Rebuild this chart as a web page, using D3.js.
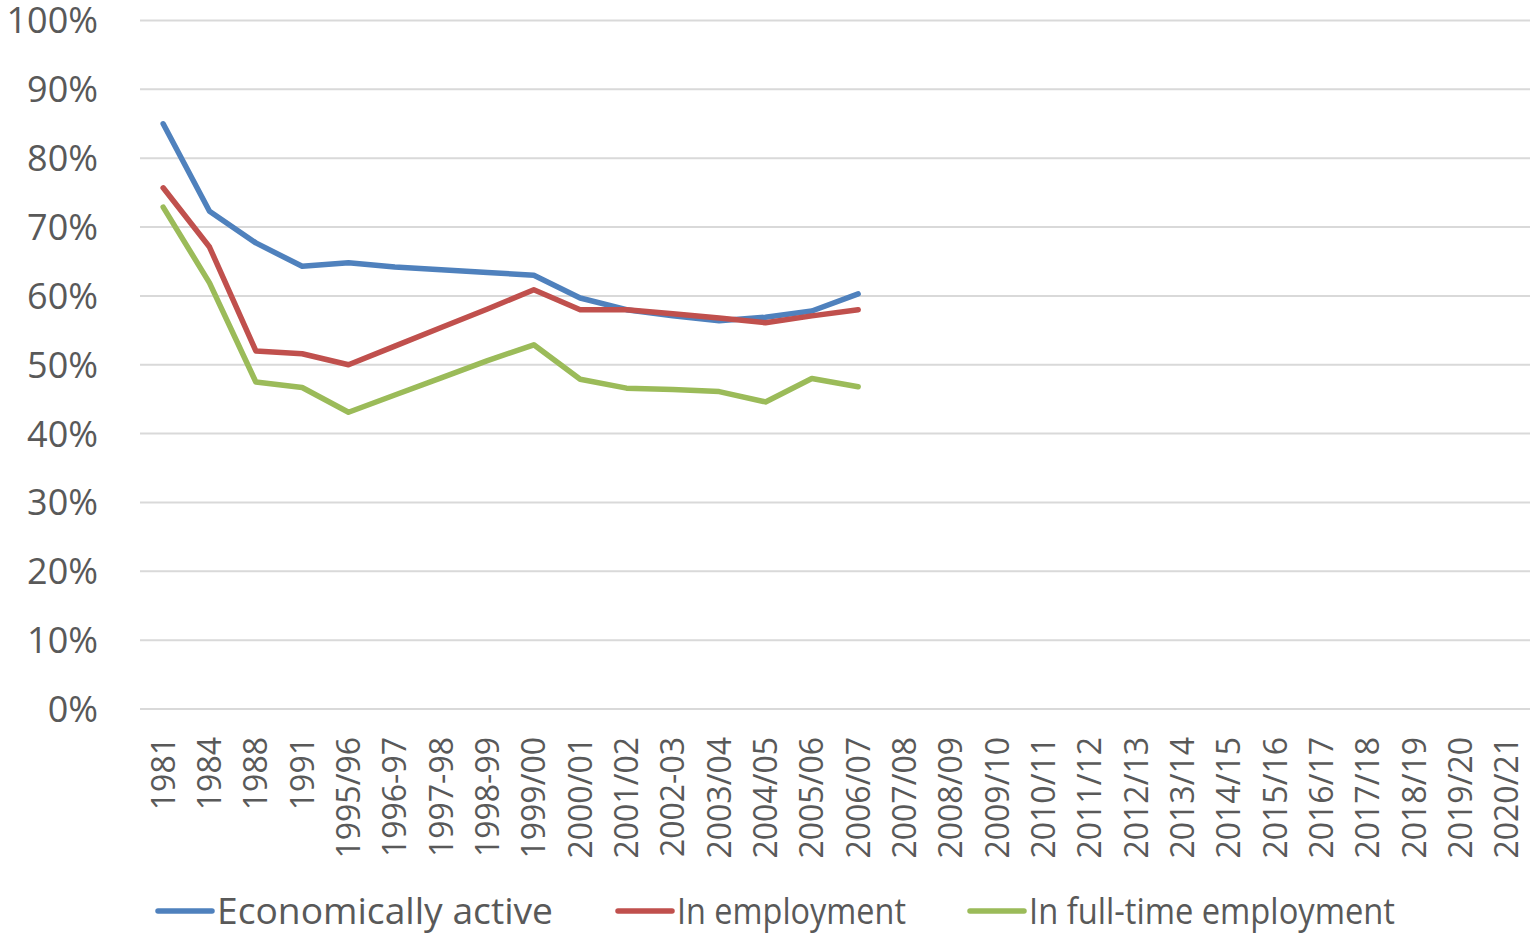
<!DOCTYPE html>
<html>
<head>
<meta charset="utf-8">
<script src="https://cdn.jsdelivr.net/npm/d3@7"></script>
<style>
  html, body { margin: 0; padding: 0; background: #fff; }
  svg text { font-family: "Open Sans", sans-serif; fill: #595959; }
</style>
</head>
<body>
<div id="chart"></div>
<script>
// categories along the x axis
var categories = ["1981", "1984", "1988", "1991", "1995/96", "1996-97", "1997-98", "1998-99",
	"1999/00", "2000/01", "2001/02", "2002-03", "2003/04", "2004/05", "2005/06", "2006/07",
	"2007/08", "2008/09", "2009/10", "2010/11", "2011/12", "2012/13", "2013/14", "2014/15",
	"2015/16", "2016/17", "2017/18", "2018/19", "2019/20", "2020/21"];

// series values in percent (only up to 2006/07, the rest has no data)
var economicallyActive = [85.0, 72.3, 67.7, 64.3, 64.8, 64.2, 63.8, 63.4, 63.0, 59.7, 58.0, 57.1,
	56.4, 56.9, 57.8, 60.3];
var inEmployment = [75.7, 67.1, 52.0, 51.6, 50.0, 52.7, 55.4, 58.1, 60.9, 58.0, 58.0, 57.4,
	56.8, 56.1, 57.1, 58.0];
var inFullTime = [72.9, 61.9, 47.5, 46.7, 43.1, 45.6, 48.1, 50.6, 52.9, 47.9, 46.6, 46.4,
	46.1, 44.6, 48.0, 46.8];

var yTicks = [0, 10, 20, 30, 40, 50, 60, 70, 80, 90, 100];

var seriesNames = ["Economically active", "In employment", "In full-time employment"];
var seriesColours = ["#4F81BD", "#C0504D", "#9BBB59"];
var seriesValues = [economicallyActive, inEmployment, inFullTime];

var width = 1530, height = 933;

var svg = d3.select("#chart")
	.append("svg")
	.attr("width", width)
	.attr("height", height);

// scales
var x = d3.scaleBand()
	.domain(categories)
	.range([140, 1530])
	.paddingInner(0)
	.paddingOuter(0);
var y = d3.scaleLinear()
	.domain([0, 100])
	.range([709, 20.5]);

// gridlines
svg.append("g")
	.attr("class", "grid")
	.selectAll("line")
	.data(yTicks)
	.enter()
	.append("line")
	.attr("x1", 140)
	.attr("x2", 1530)
	.attr("y1", function(d) { return y(d); })
	.attr("y2", function(d) { return y(d); })
	.attr("stroke", "#D9D9D9")
	.attr("stroke-width", 2);

// y axis labels
svg.append("g")
	.attr("class", "y axis")
	.selectAll("text")
	.data(yTicks)
	.enter()
	.append("text")
	.attr("x", 98)
	.attr("y", function(d) { return y(d); })
	.attr("dy", "0.36em")
	.attr("text-anchor", "end")
	.attr("font-size", "36px")
	.text(function(d) { return d + "%"; });

// x axis labels, rotated
svg.append("g")
	.attr("class", "x axis")
	.selectAll("text")
	.data(categories)
	.enter()
	.append("text")
	.attr("transform", function(d) {
		return "translate(" + (x(d) + x.bandwidth() / 2) + ",737) rotate(-90)";
	})
	.attr("dy", "0.36em")
	.attr("text-anchor", "end")
	.attr("font-size", "32px")
	.text(function(d) { return d; });

// lines
var line = d3.line()
	.defined(function(d) { return d != null; })
	.x(function(d, i) { return x(categories[i]) + x.bandwidth() / 2; })
	.y(function(d) { return y(d); });

svg.append("g")
	.attr("class", "lines")
	.selectAll("path")
	.data(seriesValues)
	.enter()
	.append("path")
	.attr("d", function(d) { return line(d); })
	.attr("fill", "none")
	.attr("stroke", function(d, i) { return seriesColours[i]; })
	.attr("stroke-width", 5.5)
	.attr("stroke-linejoin", "round")
	.attr("stroke-linecap", "round");

// legend (text widths squeezed a bit, the original font is narrower)
var legendX = [158, 618, 970];
var legendTextWidth = [336, 229, 366];
var legend = svg.append("g")
	.attr("class", "legend")
	.selectAll("g")
	.data(seriesNames)
	.enter()
	.append("g")
	.attr("transform", function(d, i) { return "translate(" + legendX[i] + ",911)"; });

legend.append("line")
	.attr("x1", 0)
	.attr("x2", 54)
	.attr("stroke", function(d, i) { return seriesColours[i]; })
	.attr("stroke-width", 5.5)
	.attr("stroke-linecap", "round");

legend.append("text")
	.attr("x", 59)
	.attr("dy", "0.35em")
	.attr("font-size", "36px")
	.attr("textLength", function(d, i) { return legendTextWidth[i]; })
	.attr("lengthAdjust", "spacingAndGlyphs")
	.text(function(d) { return d; });
</script>
</body>
</html>
